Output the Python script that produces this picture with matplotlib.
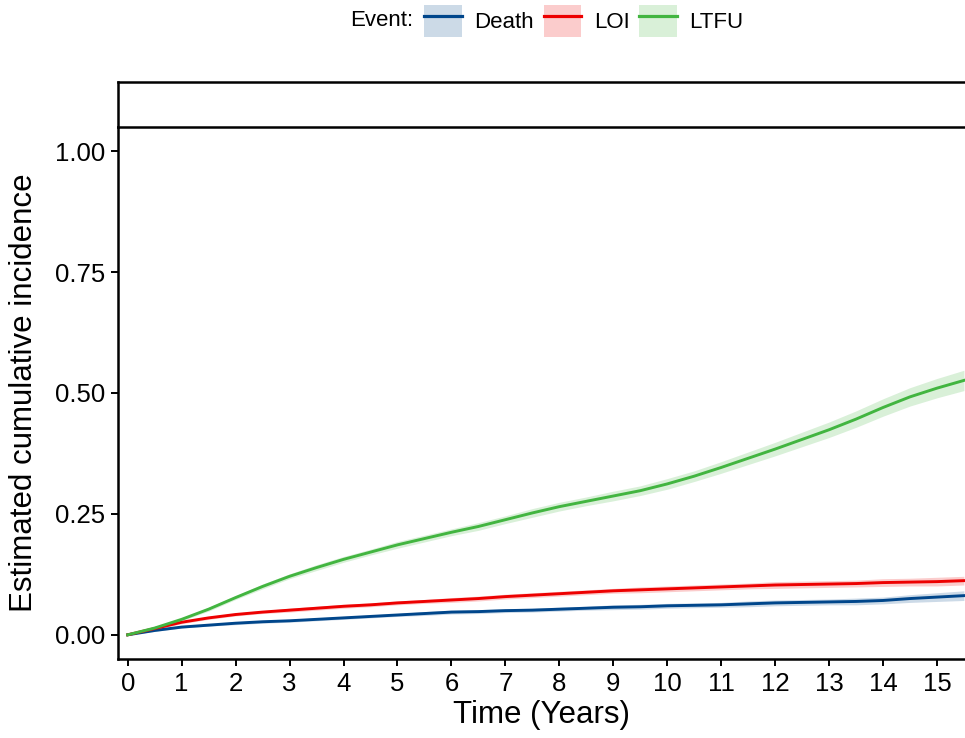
import numpy as np
import matplotlib.pyplot as plt
from matplotlib.patches import Patch
from matplotlib.lines import Line2D
from matplotlib.legend_handler import HandlerTuple

plt.rcParams['font.family'] = ['Liberation Sans', 'DejaVu Sans']

# Time grid (years) and estimated cumulative incidence per event
times = [0, 0.5, 1, 1.5, 2, 2.5, 3, 3.5, 4, 4.5, 5, 5.5, 6, 6.5, 7, 7.5,
         8, 8.5, 9, 9.5, 10, 10.5, 11, 11.5, 12, 12.5, 13, 13.5, 14, 14.5, 15, 15.5]

death = [0, 0.009, 0.016, 0.020, 0.024, 0.027, 0.029, 0.032, 0.035, 0.038, 0.041, 0.044,
         0.047, 0.048, 0.050, 0.051, 0.053, 0.055, 0.057, 0.058, 0.060, 0.061, 0.062, 0.064,
         0.066, 0.067, 0.068, 0.069, 0.071, 0.075, 0.078, 0.081]
loi = [0, 0.013, 0.026, 0.035, 0.042, 0.047, 0.051, 0.055, 0.059, 0.062, 0.066, 0.069,
       0.072, 0.075, 0.079, 0.082, 0.085, 0.088, 0.091, 0.093, 0.095, 0.097, 0.099, 0.101,
       0.103, 0.104, 0.105, 0.106, 0.108, 0.109, 0.110, 0.112]
ltfu = [0, 0.014, 0.032, 0.053, 0.077, 0.100, 0.121, 0.139, 0.156, 0.171, 0.186, 0.199,
        0.212, 0.224, 0.238, 0.252, 0.265, 0.276, 0.287, 0.298, 0.312, 0.328, 0.346, 0.365,
        0.384, 0.404, 0.424, 0.446, 0.470, 0.492, 0.510, 0.526]

# half-width of the confidence bands
death_hw = [0, .002, .002, .002, .003, .003, .003, .003, .003, .003, .003, .004, .004, .004,
            .004, .004, .004, .004, .005, .005, .005, .005, .005, .006, .006, .006, .006,
            .007, .007, .008, .009, .010]
loi_hw = [0, .002, .003, .003, .003, .003, .004, .004, .004, .004, .004, .004, .005, .005,
          .005, .005, .005, .005, .005, .006, .006, .006, .006, .006, .007, .007, .007,
          .007, .008, .008, .009, .009]
ltfu_hw = [0, .002, .003, .004, .004, .005, .005, .006, .006, .006, .007, .007, .007, .008,
           .008, .009, .009, .009, .010, .010, .011, .011, .012, .013, .014, .015, .016,
           .017, .018, .019, .020, .021]

events = ["Death", "LOI", "LTFU"]
colors = ["#00468B", "#ED0000", "#42B540"]
series = [death, loi, ltfu]
bands = [death_hw, loi_hw, ltfu_hw]

W, H = 965, 738
fig = plt.figure(figsize=(W / 100, H / 100), dpi=100)

ax = fig.add_axes([118 / W, (H - 659) / H, (W - 118) / W, (659 - 127) / H])
strip = fig.add_axes([118 / W, (H - 127) / H, 1 - 118 / W + 0.01, 45 / H])

t = np.array(times)
for vals, hw, col in zip(series, bands, colors):
    v = np.array(vals)
    h = np.array(hw)
    ax.fill_between(t, v - h, v + h, color=col, alpha=0.2, linewidth=0)
    ax.plot(t, v, color=col, lw=2.1)

ax.set_xlim(-0.18, 15.52)
ax.set_ylim(-0.05, 1.05)
ax.set_xticks(range(16))
ax.set_yticks([0, 0.25, 0.5, 0.75, 1.0])
ax.set_yticklabels(["0.00", "0.25", "0.50", "0.75", "1.00"])
ax.tick_params(labelsize=18.5, length=5, width=1.4, pad=4.5, colors='black')
ax.spines['top'].set_visible(False)
ax.spines['right'].set_visible(False)
for s in ['left', 'bottom']:
    ax.spines[s].set_linewidth(1.8)
ax.set_xlabel("Time (Years)", fontsize=22.5, labelpad=3)
ax.set_ylabel("Estimated cumulative incidence", fontsize=22.5, labelpad=11)

strip.set_xticks([])
strip.set_yticks([])
for s in strip.spines.values():
    s.set_linewidth(1.8)

# legend
fig.text(350 / W, 1 - 21 / H, "Event:", fontsize=16, va='center', ha='left')
handles = [(Patch(facecolor=c, alpha=0.2, edgecolor='none'), Line2D([], [], color=c, lw=2.3))
           for c in colors]
fig.legend(handles, events, handler_map={tuple: HandlerTuple(ndivide=1, pad=0)},
           loc='center left', bbox_to_anchor=(424 / W, 1 - 21 / H), ncol=3,
           frameon=False, fontsize=16, handlelength=1.7, handleheight=1.9,
           handletextpad=0.55, columnspacing=0.45, borderpad=0, borderaxespad=0)

fig.savefig("out.png", dpi=100)
